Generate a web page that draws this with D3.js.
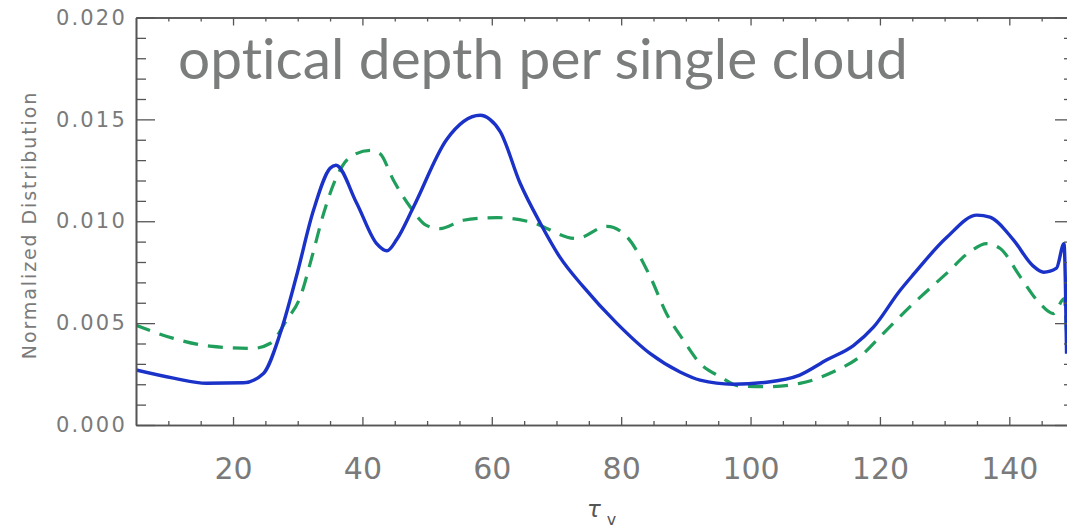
<!DOCTYPE html>
<html>
<head>
<meta charset="utf-8">
<script src="https://cdn.jsdelivr.net/npm/d3@7"></script>
<style>
  html, body { margin: 0; padding: 0; background: #fff; }
  svg { display: block; }
  .title { font-variant-ligatures: none; font-feature-settings: "liga" 0, "clig" 0; }
</style>
</head>
<body>
<svg id="chart" width="1067" height="530"></svg>
<script>
// ---- data ----
const titleText = "optical depth per single cloud";
const yLabelText = "Normalized Distribution";
const xMajorTicks = [20, 40, 60, 80, 100, 120, 140];
const xMinorTicks = [10, 15, 25, 30, 35, 45, 50, 55, 65, 70, 75, 85, 90, 95, 105, 110, 115, 125, 130, 135, 145];
const yMajorTicks = [0.000, 0.005, 0.010, 0.015, 0.020];
const yMinorTicks = [0.001, 0.002, 0.003, 0.004, 0.006, 0.007, 0.008, 0.009, 0.011, 0.012, 0.013, 0.014, 0.016, 0.017, 0.018, 0.019];

const blueTau = [5, 10.8, 15.9, 21.6, 24.7, 27.3, 29.8, 32.4, 35, 35.9, 39.1, 42.2, 43.8, 45.3, 47.9, 53, 58.2, 59.7, 61.3, 64.4, 67.5, 70.5, 74.1, 79.3, 84.5, 89.1, 92.2, 97.3, 102.5, 107.6, 111.8, 115.9, 119, 123.1, 125.2, 130.3, 135, 137, 140.6, 143.7, 145.3, 147.3, 148.45, 148.85];
const blueVal = [0.0027, 0.0023, 0.00205, 0.00207, 0.00253, 0.0045, 0.0073, 0.0105, 0.0126, 0.01275, 0.0109, 0.0089, 0.00855, 0.0091, 0.0107, 0.0140, 0.0152, 0.0150, 0.0144, 0.01185, 0.0099, 0.00825, 0.0068, 0.0050, 0.0035, 0.0026, 0.0022, 0.0020, 0.0021, 0.00245, 0.0032, 0.0039, 0.0048, 0.0066, 0.0074, 0.0092, 0.0103, 0.0102, 0.0091, 0.0078, 0.0075, 0.0077, 0.0089, 0.0035];

const greenTau = [5, 10.8, 16.4, 23.1, 25.7, 28.3, 30.4, 32.2, 34, 36, 38.1, 41.2, 42.7, 44.8, 47.4, 49.9, 52, 55.6, 60.8, 65.9, 73.1, 77.8, 80.9, 84.5, 87, 89.6, 92.2, 95.3, 98.4, 102.5, 107.6, 112.8, 116.9, 120.5, 125.2, 130.3, 133.9, 136.5, 138.6, 141.7, 144.7, 146.8, 148.5, 148.85];
const greenVal = [0.0049, 0.00425, 0.00387, 0.00376, 0.0040, 0.00515, 0.00629, 0.00825, 0.01038, 0.01217, 0.01315, 0.01348, 0.01332, 0.01201, 0.0107, 0.0098, 0.00964, 0.01005, 0.01018, 0.00997, 0.00915, 0.00975, 0.00923, 0.00727, 0.00547, 0.00417, 0.00302, 0.00237, 0.00191, 0.00188, 0.00204, 0.00261, 0.00335, 0.00449, 0.00597, 0.00744, 0.0085, 0.0089, 0.00866, 0.00727, 0.00597, 0.00547, 0.0062, 0.0045];

// ---- layout ----
const L = 136, R = 1074, T = 17.5, B = 425;
const svg = d3.select("#chart");
const x = d3.scaleLinear().domain([5, 150]).range([L, R]);
const y = d3.scaleLinear().domain([0, 0.020]).range([B, T]);

const axisColor = "#555";
const labelColor = "#7a7a7a";

function styleAxis(g) {
  g.selectAll("path.domain").attr("stroke", axisColor).attr("stroke-width", 1.6);
  g.selectAll(".tick line").attr("stroke", axisColor).attr("stroke-width", 1.3);
  g.selectAll(".tick text").attr("fill", labelColor).attr("font-family", "DejaVu Sans, sans-serif");
}

// clip for curves
svg.append("defs").append("clipPath").attr("id", "plotclip")
  .append("rect").attr("x", L).attr("y", T).attr("width", R - L).attr("height", B - T);

// curves
const line = d3.line().x(d => x(d[0])).y(d => y(d[1])).curve(d3.curveMonotoneX);
const blue = blueTau.map((t, i) => [t, blueVal[i]]);
const green = greenTau.map((t, i) => [t, greenVal[i]]);

const plot = svg.append("g").attr("clip-path", "url(#plotclip)");
plot.append("path").datum(green).attr("d", line)
  .attr("fill", "none").attr("stroke", "#1f9e5c").attr("stroke-width", 3.2)
  .attr("stroke-dasharray", "15,10");
plot.append("path").datum(blue).attr("d", line)
  .attr("fill", "none").attr("stroke", "#1a32c8").attr("stroke-width", 3.4)
  .attr("stroke-linejoin", "round");

// bottom axis (major with labels)
const gB = svg.append("g").attr("transform", `translate(0,${B})`)
  .call(d3.axisBottom(x).tickValues(xMajorTicks).tickSizeInner(-8).tickSizeOuter(0).tickPadding(33).tickFormat(d3.format("d")));
gB.selectAll(".tick text").attr("font-size", 30);
styleAxis(gB);
const gBm = svg.append("g").attr("transform", `translate(0,${B})`)
  .call(d3.axisBottom(x).tickValues(xMinorTicks).tickSizeInner(-4).tickSizeOuter(0).tickFormat(""));
styleAxis(gBm);

// top axis
const gT = svg.append("g").attr("transform", `translate(0,${T})`)
  .call(d3.axisTop(x).tickValues(xMajorTicks).tickSizeInner(-8).tickSizeOuter(0).tickFormat(""));
styleAxis(gT);
const gTm = svg.append("g").attr("transform", `translate(0,${T})`)
  .call(d3.axisTop(x).tickValues(xMinorTicks).tickSizeInner(-4).tickSizeOuter(0).tickFormat(""));
styleAxis(gTm);

// left axis
const gL = svg.append("g").attr("transform", `translate(${L},0)`)
  .call(d3.axisLeft(y).tickValues(yMajorTicks).tickSizeInner(-19).tickSizeOuter(0).tickPadding(9).tickFormat(d3.format(".3f")));
gL.selectAll(".tick text").attr("font-size", 21).attr("letter-spacing", 2.2);
styleAxis(gL);
const gLm = svg.append("g").attr("transform", `translate(${L},0)`)
  .call(d3.axisLeft(y).tickValues(yMinorTicks).tickSizeInner(-10).tickSizeOuter(0).tickFormat(""));
styleAxis(gLm);

// right axis
const gR = svg.append("g").attr("transform", `translate(${R},0)`)
  .call(d3.axisRight(y).tickValues(yMajorTicks).tickSizeInner(-19).tickSizeOuter(0).tickFormat(""));
styleAxis(gR);
const gRm = svg.append("g").attr("transform", `translate(${R},0)`)
  .call(d3.axisRight(y).tickValues(yMinorTicks).tickSizeInner(-10).tickSizeOuter(0).tickFormat(""));
styleAxis(gRm);

// y-axis label
svg.append("text")
  .attr("transform", `translate(36,225) rotate(-90)`)
  .attr("text-anchor", "middle")
  .attr("font-family", "DejaVu Sans, sans-serif")
  .attr("font-size", 19)
  .attr("letter-spacing", 1.9)
  .attr("fill", labelColor)
  .text(yLabelText);

// x-axis label: tau_v
const xl = svg.append("text")
  .attr("x", 587).attr("y", 517)
  .attr("font-family", "DejaVu Sans, sans-serif")
  .attr("font-style", "italic")
  .attr("font-size", 23)
  .attr("fill", "#555");
xl.append("tspan").text("τ");
xl.append("tspan").attr("dx", 6).attr("dy", 8).attr("font-size", 16).attr("font-style", "normal").text("v");

// title
const title = svg.append("text")
  .attr("class", "title")
  .attr("x", 178).attr("y", 79)
  .attr("font-family", "Lato, 'Open Sans', sans-serif")
  .attr("font-size", 48)
  .attr("fill", "#7b7d7d")
  .text(titleText);
const w = title.node().getComputedTextLength();
title.attr("font-size", 48 * 730 / w);
</script>
</body>
</html>
